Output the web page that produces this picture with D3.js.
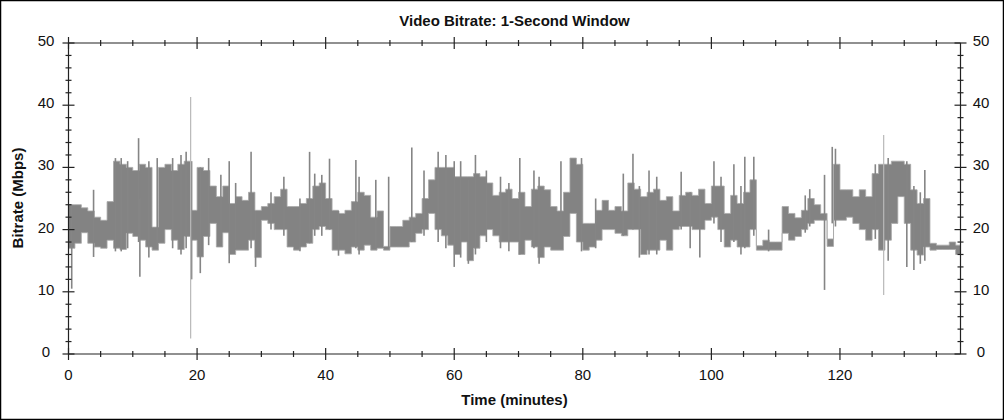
<!DOCTYPE html>
<html>
<head>
<meta charset="utf-8">
<script src="https://cdn.jsdelivr.net/npm/d3@7"></script>
<style>
  html, body { margin: 0; padding: 0; background: #fff; }
  svg { display: block; }
  text { font-family: "Liberation Sans", Arial, sans-serif; fill: #111; }
</style>
</head>
<body>
<svg id="chart" width="1004" height="420"></svg>
<script>
// ---- data ----
const title = "Video Bitrate: 1-Second Window";
const xLabel = "Time (minutes)";
const yLabel = "Bitrate (Mbps)";
const xMax = 138.75;            // minutes
const yTicks = [0, 10, 20, 30, 40, 50];
const xTicks = [0, 20, 40, 60, 80, 100, 120];

// per-minute core range of the 1-second bitrate (Mbps), minute 0..138
const bitrateLow = [
  17.0,17.8,19.5,17.8,17.2,17.0,18.3,17.0,16.8,19.4,
  18.9,18.3,17.2,16.7,17.8,20.0,18.3,16.8,18.9,18.3,
  15.6,18.9,21.0,17.2,19.5,16.0,16.7,16.7,18.3,15.5,
  21.5,21.0,20.0,20.0,17.2,16.7,17.2,17.8,20.0,20.5,
  20.0,16.7,16.7,16.1,17.2,16.7,17.5,16.7,17.0,16.7,
  17.2,17.2,17.2,18.0,19.4,20.0,22.6,20.0,19.0,17.5,
  16.0,18.0,15.0,17.0,19.0,20.0,19.0,18.0,18.0,18.0,
  16.0,18.3,17.2,15.5,17.2,16.7,16.7,18.9,22.6,18.0,
  16.7,17.2,18.3,20.0,20.0,19.4,19.0,20.0,20.0,16.0,
  16.7,16.7,18.3,16.7,20.0,20.5,20.5,20.0,20.0,21.5,
  22.0,20.0,17.2,18.3,17.2,17.2,20.0,16.7,16.7,16.7,
  16.7,19.4,18.3,18.9,20.0,21.0,21.5,21.5,17.3,21.5,
  21.5,22.0,21.0,20.0,18.3,20.0,16.7,18.3,21.0,25.3,
  21.0,16.7,15.9,17.2,16.7,16.8,16.8,16.8,16.0
];
const bitrateHigh = [
  24.0,24.0,23.5,23.0,22.0,21.5,24.5,31.0,30.5,30.0,
  29.5,30.5,30.0,20.4,30.0,30.5,29.5,30.5,31.0,23.1,
  30.0,29.5,27.0,25.3,27.0,24.2,25.3,24.7,26.0,23.1,
  23.7,24.2,25.3,26.5,23.7,23.7,24.2,25.0,27.0,27.5,
  25.0,23.1,22.6,23.1,24.5,26.0,25.5,22.0,23.0,17.3,
  20.5,20.5,21.5,22.0,22.6,25.0,28.0,30.0,30.0,30.0,
  28.5,28.5,28.5,29.0,28.5,27.5,25.5,26.0,26.5,25.0,
  26.0,23.7,26.5,27.0,26.4,23.7,23.0,26.0,31.5,30.5,
  21.0,21.0,23.1,24.7,23.1,23.7,23.0,27.5,26.5,25.3,
  26.0,26.5,24.7,25.3,23.0,25.5,26.0,25.5,26.5,24.2,
  27.0,27.0,22.6,25.5,24.2,26.0,28.0,17.4,18.3,18.0,
  18.0,23.7,22.6,21.9,23.1,25.0,24.0,22.6,18.5,30.5,
  26.4,26.4,25.3,26.4,25.3,29.0,30.5,30.5,31.0,31.0,
  30.5,26.4,24.2,25.0,17.8,17.5,17.5,18.0,17.5
];

// narrow one-second peaks and dips (minute, low, high)
const spikeTime = [0.5,3.9,7.3,8.2,9.2,10.9,11.1,12.5,13.8,16.2,17.5,18.3,19.15,20.5,21.8,23.7,25.0,26.0,28.4,29.1,31.5,33.5,36.0,37.5,38.3,39.4,40.6,42.0,44.7,45.2,47.8,49.8,53.4,55.3,57.5,58.7,60.0,61.0,62.2,63.3,65.0,67.2,68.5,70.2,72.4,73.2,76.6,79.8,82.0,86.3,87.8,88.8,90.3,91.5,95.3,96.7,98.2,100.4,101.5,103.5,104.6,105.2,106.6,108.9,114.6,115.3,117.6,118.8,119.3,125.5,127.5,130.4,131.5,132.5,133.2];
const spikeLow  = [10.5,15.6,16.5,16.5,17.0,18.0,12.4,15.5,17.0,17.0,16.0,17.0,12.0,13.0,17.5,19.0,14.6,17.0,17.0,14.0,20.0,19.0,16.5,17.8,19.0,19.0,20.0,15.8,17.0,16.0,17.0,17.0,18.0,19.0,18.0,17.0,14.0,15.5,14.5,16.0,18.0,17.0,16.5,16.0,17.0,14.5,17.0,16.5,17.0,19.0,20.0,15.5,16.0,16.0,20.0,17.0,15.5,21.0,18.0,18.0,16.0,17.0,19.0,16.5,19.5,20.5,10.3,21.0,20.5,18.5,15.0,14.0,13.5,14.5,15.0];
const spikeHigh = [24.0,26.4,31.5,31.5,31.0,34.7,25.0,31.0,31.5,31.5,32.0,32.5,31.0,30.0,31.5,28.8,31.0,27.5,32.5,23.0,26.0,28.5,25.0,32.5,29.0,28.8,31.4,23.0,31.2,28.5,28.0,28.5,33.2,29.5,32.5,32.0,31.0,31.0,28.0,32.0,29.5,28.5,27.5,31.5,29.5,28.5,31.0,31.5,25.0,29.0,32.2,27.0,29.5,28.5,29.3,26.0,26.0,31.0,28.5,30.5,27.0,31.7,31.7,20.0,25.5,26.5,28.8,33.3,33.0,30.5,31.5,31.0,27.0,26.0,29.6];

// two isolated extreme samples (drawn fainter)
const outlierTime = [19.0, 126.8];
const outlierLow  = [2.5, 9.5];
const outlierHigh = [41.3, 35.2];

// ---- drawing ----
const svg = d3.select("#chart");
const W = 1004, H = 420;
const L = 68.5, R = 960.5, T = 43, B = 354;

svg.append("rect").attr("x", 0.5).attr("y", 0.5).attr("width", W - 1).attr("height", H - 1)
  .attr("fill", "#fff").attr("stroke", "#000").attr("stroke-width", 1.5);

const x = d3.scaleLinear().domain([0, xMax]).range([L, R]);
const y = d3.scaleLinear().domain([0, 50]).range([B, T]);

const pts = bitrateLow.map((lo, i) => ({ t: i, lo, hi: bitrateHigh[i] }));
pts.push({ t: xMax, lo: bitrateLow[bitrateLow.length - 1], hi: bitrateHigh[bitrateHigh.length - 1] });

const plot = svg.append("g");
plot.append("path")
  .datum(pts)
  .attr("d", d3.area().x(d => x(d.t)).y0(d => y(d.lo)).y1(d => y(d.hi)).curve(d3.curveStepAfter))
  .attr("fill", "#838383").attr("stroke", "#a8a8a8").attr("stroke-width", 0.8);

plot.selectAll("line.spike").data(spikeTime).enter().append("line")
  .attr("class", "spike")
  .attr("x1", d => x(d)).attr("x2", d => x(d))
  .attr("y1", (d, i) => y(spikeLow[i])).attr("y2", (d, i) => y(spikeHigh[i]))
  .attr("stroke", "#858585").attr("stroke-width", 1.6);

plot.selectAll("line.outlier").data(outlierTime).enter().append("line")
  .attr("class", "outlier")
  .attr("x1", d => x(d)).attr("x2", d => x(d))
  .attr("y1", (d, i) => y(outlierLow[i])).attr("y2", (d, i) => y(outlierHigh[i]))
  .attr("stroke", "#b8b8b8").attr("stroke-width", 1.2);

// frame lines
const ax = svg.append("g").attr("stroke", "#222").attr("stroke-width", 1.2);
ax.append("line").attr("x1", L).attr("x2", R).attr("y1", B).attr("y2", B);
ax.append("line").attr("x1", L).attr("x2", R).attr("y1", T).attr("y2", T);
ax.append("line").attr("x1", L).attr("x2", L).attr("y1", T).attr("y2", B);
ax.append("line").attr("x1", R).attr("x2", R).attr("y1", T).attr("y2", B);

// ticks
const yMinor = d3.range(0, 51, 2);
const xMinor = d3.range(0, xMax, 5);
yMinor.forEach(v => {
  const major = v % 10 === 0;
  const len = major ? 6 : 3;
  ax.append("line").attr("x1", L - len).attr("x2", L + len).attr("y1", y(v)).attr("y2", y(v));
  ax.append("line").attr("x1", R - len).attr("x2", R + len).attr("y1", y(v)).attr("y2", y(v));
});
xMinor.forEach(v => {
  const major = v % 20 === 0;
  const len = major ? 6 : 3;
  ax.append("line").attr("x1", x(v)).attr("x2", x(v)).attr("y1", B - len).attr("y2", B + len);
  ax.append("line").attr("x1", x(v)).attr("x2", x(v)).attr("y1", T - len).attr("y2", T + len);
});

// tick labels
const lab = svg.append("g").style("font-size", "15px");
yTicks.forEach(v => {
  lab.append("text").attr("x", 46).attr("y", y(v) + 3).attr("text-anchor", "middle").text(v);
  lab.append("text").attr("x", 981).attr("y", y(v) + 3).attr("text-anchor", "middle").text(v);
});
xTicks.forEach(v => {
  lab.append("text").attr("x", x(v)).attr("y", 380).attr("text-anchor", "middle").text(v);
});

// titles
svg.append("text").attr("x", 514.5).attr("y", 26).attr("text-anchor", "middle")
  .style("font-size", "15px").style("font-weight", "bold").text(title);
svg.append("text").attr("x", 514.5).attr("y", 405).attr("text-anchor", "middle")
  .style("font-size", "15px").style("font-weight", "bold").text(xLabel);
svg.append("text").attr("transform", "translate(23,198) rotate(-90)").attr("text-anchor", "middle")
  .style("font-size", "15px").style("font-weight", "bold").text(yLabel);
</script>
</body>
</html>
